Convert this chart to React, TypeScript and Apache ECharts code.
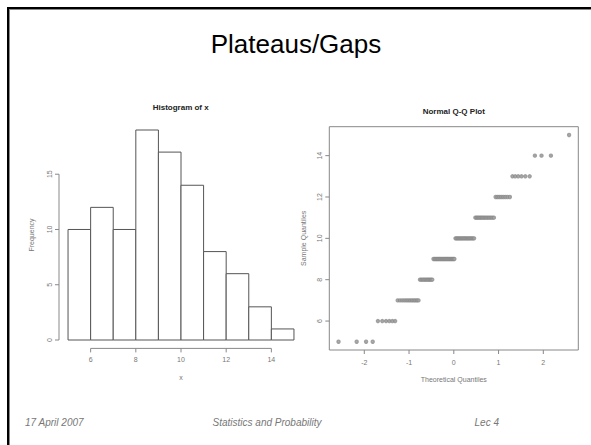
import React, { useEffect, useRef } from "react";
import * as echarts from "echarts";

// Histogram of x (R-style bins of width 1)
const histBinStarts = [5, 6, 7, 8, 9, 10, 11, 12, 13, 14];
const histBinWidth = 1;
const histCounts = [10, 12, 10, 19, 17, 14, 8, 6, 3, 1];
const histXTicks = [6, 8, 10, 12, 14];
const histYTicks = [0, 5, 10, 15];

// Normal Q-Q plot: distinct sample values and how many times each occurs
const qqSampleValues = [5, 6, 7, 8, 9, 10, 11, 12, 13, 14, 15];
const qqSampleCounts = [4, 6, 12, 10, 19, 17, 14, 8, 6, 3, 1];
const qqXTicks = [-2, -1, 0, 1, 2];
const qqYTicks = [6, 8, 10, 12, 14];

// Inverse standard normal CDF (Acklam), as qqnorm uses for theoretical quantiles
function qnorm(p: number): number {
  const a = [-3.969683028665376e1, 2.209460984245205e2, -2.759285104469687e2, 1.38357751867269e2, -3.066479806614716e1, 2.506628277459239];
  const b = [-5.447609879822406e1, 1.615858368580409e2, -1.556989798598866e2, 6.680131188771972e1, -1.328068155288572e1];
  const c = [-7.784894002430293e-3, -3.223964580411365e-1, -2.400758276161838, -2.54967134824367, 4.374664141464968, 2.938163982698783];
  const d = [7.784695709041462e-3, 3.224671290700398e-1, 2.445134137142996, 3.754408661907416];
  const plow = 0.02425;
  const phigh = 1 - plow;
  if (p < plow) {
    const q = Math.sqrt(-2 * Math.log(p));
    return (((((c[0] * q + c[1]) * q + c[2]) * q + c[3]) * q + c[4]) * q + c[5]) / ((((d[0] * q + d[1]) * q + d[2]) * q + d[3]) * q + 1);
  }
  if (p <= phigh) {
    const q = p - 0.5;
    const r = q * q;
    return ((((((a[0] * r + a[1]) * r + a[2]) * r + a[3]) * r + a[4]) * r + a[5]) * q) / (((((b[0] * r + b[1]) * r + b[2]) * r + b[3]) * r + b[4]) * r + 1);
  }
  const q = Math.sqrt(-2 * Math.log(1 - p));
  return -(((((c[0] * q + c[1]) * q + c[2]) * q + c[3]) * q + c[4]) * q + c[5]) / ((((d[0] * q + d[1]) * q + d[2]) * q + d[3]) * q + 1);
}

export default function App() {
  const ref = useRef<HTMLDivElement>(null);

  useEffect(() => {
    if (!ref.current) return;
    const chart = echarts.init(ref.current, undefined, { renderer: "svg" });

    // histogram bars
    const histData = histBinStarts.map((s, i) => [s, s + histBinWidth, histCounts[i]]);
    const hLo = histBinStarts[0];
    const hHi = histBinStarts[histBinStarts.length - 1] + histBinWidth;
    const hPad = (hHi - hLo) * 0.04;
    const hxMin = hLo - hPad;
    const hxMax = hHi + hPad;
    const hMaxCount = Math.max(...histCounts);
    const hyMin = -hMaxCount * 0.04;
    const hyMax = hMaxCount * 1.04;

    // Q-Q points
    const sample: number[] = [];
    qqSampleValues.forEach((v, i) => {
      for (let k = 0; k < qqSampleCounts[i]; k++) sample.push(v);
    });
    const n = sample.length;
    const qqData = sample.map((v, i) => [qnorm((i + 1 - 0.5) / n), v]);
    const tq = qqData.map((d) => d[0]);
    const tMin = Math.min(...tq);
    const tMax = Math.max(...tq);
    const tPad = (tMax - tMin) * 0.04;
    const sMin = Math.min(...sample);
    const sMax = Math.max(...sample);
    const sPad = (sMax - sMin) * 0.04;
    const qxMin = tMin - tPad;
    const qxMax = tMax + tPad;
    const qyMin = sMin - sPad;
    const qyMax = sMax + sPad;

    const axisColor = "#888";
    const labelColor = "#777";
    const ff = "Liberation Sans, Arial, sans-serif";
    const tickLabel = { fontSize: 7, color: labelColor, fontFamily: ff };
    const TL = 4; // tick length in px

    const seg = (x1: number, y1: number, x2: number, y2: number) => ({
      type: "line",
      shape: { x1, y1, x2, y2 },
      style: { stroke: axisColor, lineWidth: 1 },
    });

    // axis lines + outward ticks drawn through the axes' scales
    const axisRenderer = (xTicks: number[], yTicks: number[], xMin: number, yMin: number, spanLines: boolean) =>
      (params: any, api: any) => {
        const children: any[] = [];
        if (spanLines) {
          const a1 = api.coord([xTicks[0], yMin]);
          const a2 = api.coord([xTicks[xTicks.length - 1], yMin]);
          const b1 = api.coord([xMin, yTicks[0]]);
          const b2 = api.coord([xMin, yTicks[yTicks.length - 1]]);
          children.push(seg(a1[0], a1[1], a2[0], a2[1]));
          children.push(seg(b1[0], b1[1], b2[0], b2[1]));
        }
        xTicks.forEach((t) => {
          const p = api.coord([t, yMin]);
          children.push(seg(p[0], p[1], p[0], p[1] + TL));
        });
        yTicks.forEach((t) => {
          const p = api.coord([xMin, t]);
          children.push(seg(p[0], p[1], p[0] - TL, p[1]));
        });
        return { type: "group", children };
      };

    const option: any = {
      animation: false,
      backgroundColor: "#fff",
      grid: [
        { left: 59, top: 121.6, width: 244, height: 226.8 },
        { left: 329.3, top: 126.7, width: 249, height: 223.3, show: true, borderColor: "#888", borderWidth: 1, backgroundColor: "transparent" },
      ],
      xAxis: [
        {
          gridIndex: 0, type: "value", min: hxMin, max: hxMax,
          axisLine: { show: false, onZero: false },
          axisTick: { show: false },
          axisLabel: { ...tickLabel, margin: 8, customValues: histXTicks },
          splitLine: { show: false },
          name: "x", nameLocation: "middle", nameGap: 26,
          nameTextStyle: { fontSize: 7, color: labelColor, fontFamily: ff },
        },
        {
          gridIndex: 1, type: "value", min: qxMin, max: qxMax,
          axisLine: { show: false, onZero: false },
          axisTick: { show: false },
          axisLabel: { ...tickLabel, margin: 9, customValues: qqXTicks },
          splitLine: { show: false },
          name: "Theoretical Quantiles", nameLocation: "middle", nameGap: 26,
          nameTextStyle: { fontSize: 7, color: labelColor, fontFamily: ff },
        },
      ],
      yAxis: [
        {
          gridIndex: 0, type: "value", min: hyMin, max: hyMax,
          axisLine: { show: false, onZero: false },
          axisTick: { show: false },
          axisLabel: { ...tickLabel, margin: 6, rotate: 90, customValues: histYTicks },
          splitLine: { show: false },
          name: "Frequency", nameLocation: "middle", nameGap: 24, nameRotate: 90,
          nameTextStyle: { fontSize: 7, color: labelColor, fontFamily: ff },
        },
        {
          gridIndex: 1, type: "value", min: qyMin, max: qyMax,
          axisLine: { show: false, onZero: false },
          axisTick: { show: false },
          axisLabel: { ...tickLabel, margin: 6, rotate: 90, customValues: qqYTicks },
          splitLine: { show: false },
          name: "Sample Quantiles", nameLocation: "middle", nameGap: 22, nameRotate: 90,
          nameTextStyle: { fontSize: 7, color: labelColor, fontFamily: ff },
        },
      ],
      series: [
        {
          type: "custom", xAxisIndex: 0, yAxisIndex: 0, data: histData, silent: true,
          renderItem: (params: any, api: any) => {
            const p0 = api.coord([api.value(0), api.value(2)]);
            const p1 = api.coord([api.value(1), 0]);
            return {
              type: "rect",
              shape: { x: p0[0], y: p0[1], width: p1[0] - p0[0], height: p1[1] - p0[1] },
              style: { fill: "#fff", stroke: "#555", lineWidth: 1 },
            };
          },
        },
        {
          type: "custom", xAxisIndex: 0, yAxisIndex: 0, data: [[0]], silent: true, clip: false,
          renderItem: axisRenderer(histXTicks, histYTicks, hxMin, hyMin, true),
        },
        {
          type: "custom", xAxisIndex: 1, yAxisIndex: 1, data: [[0]], silent: true, clip: false,
          renderItem: axisRenderer(qqXTicks, qqYTicks, qxMin, qyMin, false),
        },
        {
          type: "scatter", xAxisIndex: 1, yAxisIndex: 1, data: qqData, silent: true,
          symbol: "emptyCircle", symbolSize: 2.4,
          itemStyle: { color: "#888", borderColor: "#888", borderWidth: 0.6 },
        },
      ],
      graphic: [
        { type: "line", shape: { x1: 7, y1: 8, x2: 591, y2: 8 }, style: { stroke: "#000", lineWidth: 2 } },
        { type: "line", shape: { x1: 9, y1: 9.5, x2: 591, y2: 9.5 }, style: { stroke: "#888", lineWidth: 1 } },
        { type: "line", shape: { x1: 8, y1: 7, x2: 8, y2: 445 }, style: { stroke: "#000", lineWidth: 2 } },
        { type: "line", shape: { x1: 9.5, y1: 9, x2: 9.5, y2: 445 }, style: { stroke: "#888", lineWidth: 1 } },
        { type: "text", x: 296, y: 44, style: { text: "Plateaus/Gaps", fontSize: 26, fontFamily: ff, fill: "#000", align: "center", verticalAlign: "middle" } },
        { type: "text", x: 180.7, y: 107, style: { text: "Histogram of x", fontSize: 8, fontWeight: "bold", fontFamily: ff, fill: "#222", align: "center", verticalAlign: "middle" } },
        { type: "text", x: 453.8, y: 111, style: { text: "Normal Q-Q Plot", fontSize: 8, fontWeight: "bold", fontFamily: ff, fill: "#222", align: "center", verticalAlign: "middle" } },
        { type: "text", x: 25, y: 422, style: { text: "17 April 2007", fontSize: 10, fontStyle: "italic", fontFamily: ff, fill: "#777", align: "left", verticalAlign: "middle" } },
        { type: "text", x: 267, y: 422, style: { text: "Statistics and Probability", fontSize: 10, fontStyle: "italic", fontFamily: ff, fill: "#777", align: "center", verticalAlign: "middle" } },
        { type: "text", x: 499, y: 422, style: { text: "Lec 4", fontSize: 10, fontStyle: "italic", fontFamily: ff, fill: "#777", align: "right", verticalAlign: "middle" } },
      ],
    };

    chart.setOption(option);
    return () => chart.dispose();
  }, []);

  return <div ref={ref} style={{ position: "absolute", left: 0, top: 0, width: 591, height: 445 }} />;
}
